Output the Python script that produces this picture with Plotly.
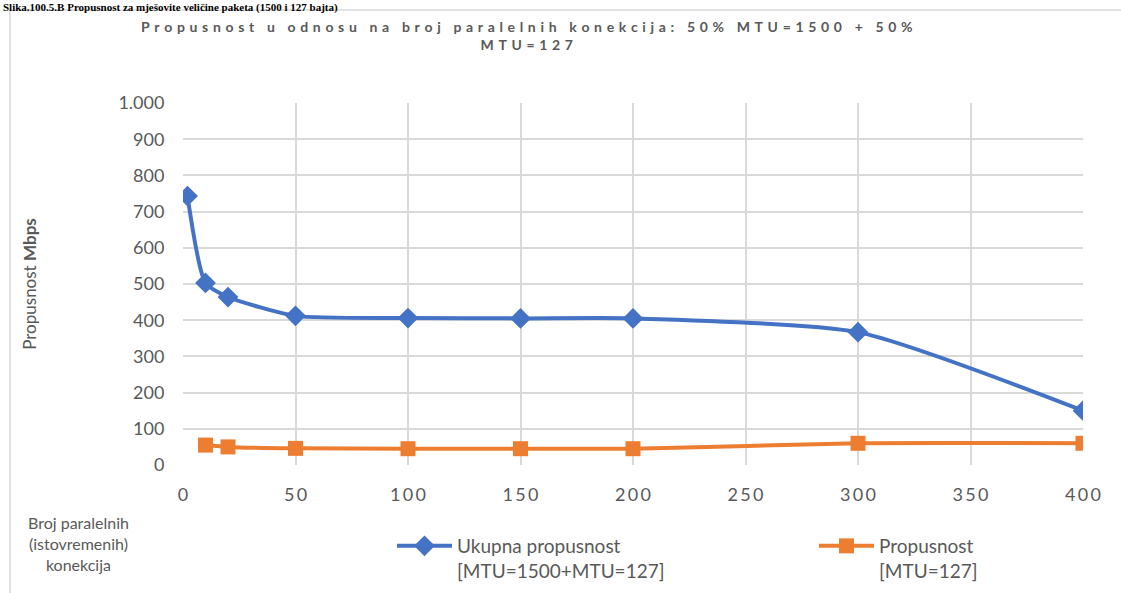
import plotly.graph_objects as go

# Data
connections_total = [2, 10, 20, 50, 100, 150, 200, 300, 400]
throughput_total = [743, 503, 464, 412, 406, 405, 405, 367, 150]
connections_127 = [10, 20, 50, 100, 150, 200, 300, 400]
throughput_127 = [55, 50, 46, 45, 45, 45, 60, 60]

x_ticks = [0, 50, 100, 150, 200, 250, 300, 350, 400]
y_ticks = [0, 100, 200, 300, 400, 500, 600, 700, 800, 900, 1000]
y_ticktext = ["0", "100", "200", "300", "400", "500", "600", "700", "800", "900", "1.000"]

title_text = "Propusnost u odnosu na broj paralelnih konekcija: 50% MTU=1500 + 50%"
title_text2 = "MTU=127"
caption = "Slika.100.5.B Propusnost za mješovite veličine paketa (1500 i 127 bajta)"

def spaced(s, sep="\u2009"):
    out = []
    for ch in s:
        if ch == " ":
            out.append(" " + sep)
        else:
            out.append(ch + sep)
    return "".join(out).rstrip(sep)

FONT = "Lato, 'Open Sans', sans-serif"
GRAY = "#595959"

W, H = 1121, 593
L, R, T, B = 183, 1083, 103, 465

def px(x):
    return (x - L) / (R - L)

def py(y):
    return (B - y) / (B - T)

fig = go.Figure()
fig.add_trace(go.Scatter(
    x=connections_total, y=throughput_total, mode="lines+markers",
    name="Ukupna propusnost<br>[MTU=1500+MTU=127]",
    line=dict(color="#4472C4", width=4, shape="spline", smoothing=0.6),
    marker=dict(symbol="diamond", size=16, color="#4472C4"),
    legend="legend",
))
fig.add_trace(go.Scatter(
    x=connections_127, y=throughput_127, mode="lines+markers",
    name="Propusnost<br>[MTU=127]",
    line=dict(color="#ED7D31", width=4, shape="spline", smoothing=0.6),
    marker=dict(symbol="square", size=15, color="#ED7D31"),
    legend="legend2",
))

legend_common = dict(
    xanchor="left", yanchor="top", valign="top",
    font=dict(size=19, color=GRAY, family=FONT), bgcolor="rgba(0,0,0,0)",
    itemwidth=55,
)

fig.update_layout(
    width=W, height=H,
    margin=dict(l=L, r=W - R, t=T, b=H - B, autoexpand=False),
    paper_bgcolor="white", plot_bgcolor="white",
    font=dict(family=FONT, color=GRAY, size=18),
    showlegend=True,
    legend=dict(x=px(392), y=py(527), **legend_common),
    legend2=dict(x=px(814), y=py(527), **legend_common),
    xaxis=dict(
        range=[0, 400], tickvals=x_ticks, ticktext=[spaced(str(v)) for v in x_ticks],
        showgrid=True, gridcolor="#D9D9D9", gridwidth=1.5,
        zeroline=False, showline=False, ticks="outside", ticklen=13, tickcolor="rgba(0,0,0,0)",
        tickfont=dict(size=18, color=GRAY),
    ),
    yaxis=dict(
        range=[0, 1000], tickvals=y_ticks, ticktext=y_ticktext,
        showgrid=True, gridcolor="#D9D9D9", gridwidth=1.5,
        zeroline=False, showline=False, ticks="outside", ticklen=14, tickcolor="rgba(0,0,0,0)",
        tickfont=dict(size=18, color=GRAY),
        title=dict(text="Propusnost <b>Mbps</b>", font=dict(size=17, color=GRAY), standoff=77),
    ),
    shapes=[
        dict(type="line", xref="paper", yref="paper", x0=px(10), x1=px(1121), y0=py(10), y1=py(10),
             line=dict(color="#D9D9D9", width=1.5)),
        dict(type="line", xref="paper", yref="paper", x0=px(10), x1=px(10), y0=py(10), y1=py(593),
             line=dict(color="#D9D9D9", width=1.5)),
    ],
    annotations=[
        dict(text="<b>" + spaced(title_text, "\u2004") + "<br>" + spaced(title_text2, "\u2004") + "</b>",
             x=px(527), y=py(16),
             xref="paper", yref="paper", xanchor="center", yanchor="top", showarrow=False,
             font=dict(size=14, color=GRAY, family=FONT), align="center"),
        dict(text="<b>" + caption + "</b>", x=px(2), y=py(0), xref="paper", yref="paper",
             xanchor="left", yanchor="top", showarrow=False, borderpad=0,
             font=dict(size=11, color="black", family="'Liberation Serif', serif")),
        dict(text="Broj paralelnih<br>(istovremenih)<br>konekcija", x=px(78), y=py(511),
             xref="paper", yref="paper", xanchor="center", yanchor="top", showarrow=False,
             font=dict(size=16, color=GRAY, family=FONT), align="center"),
    ],
)

fig.write_html("out.html", config={"displayModeBar": False},
               post_script="document.body.style.margin='0px';document.body.style.overflow='hidden';")
